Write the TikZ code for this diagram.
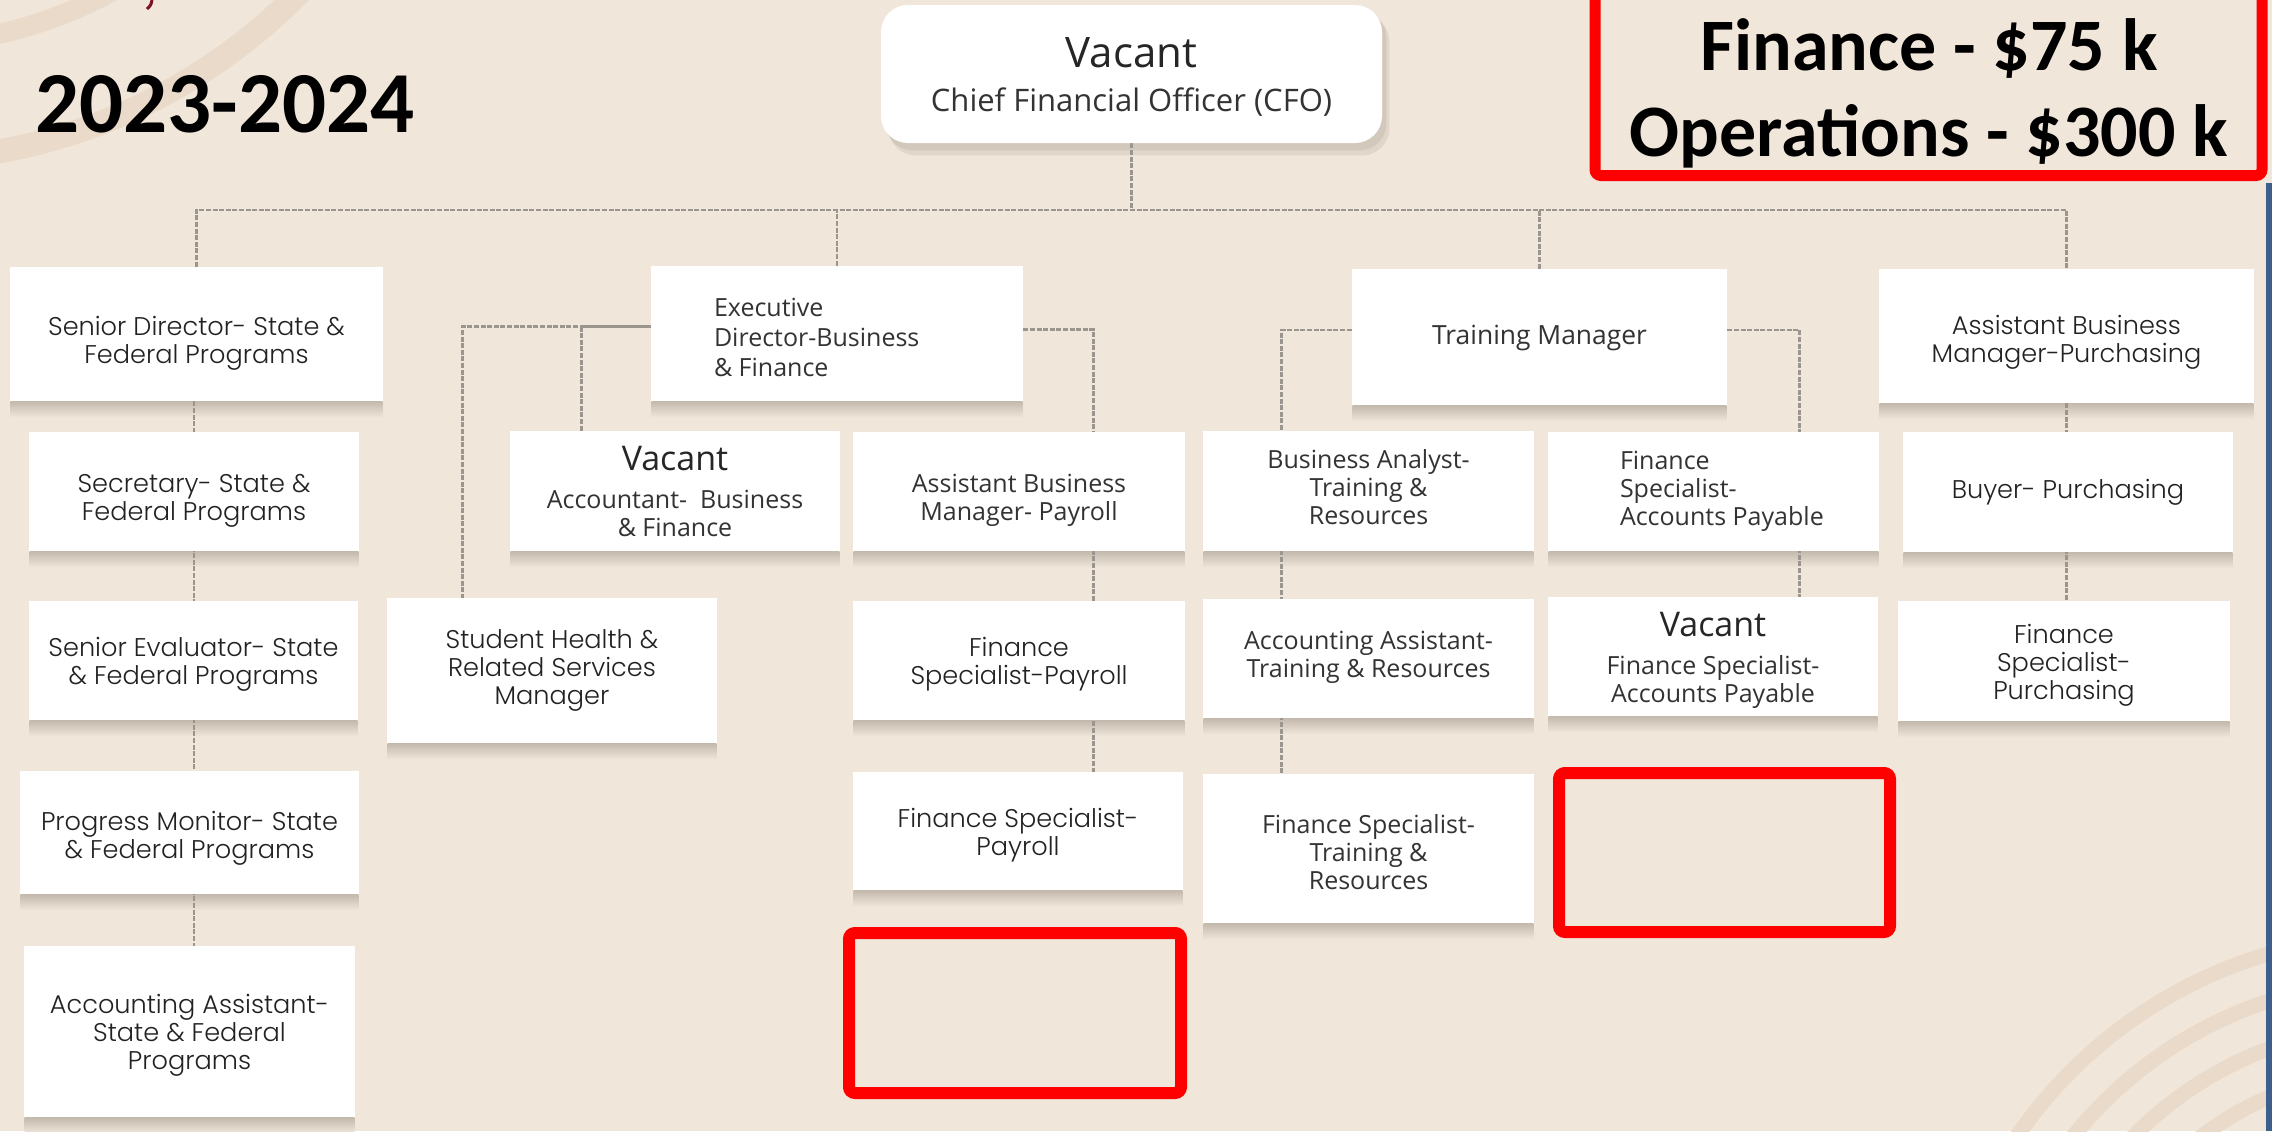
\documentclass[tikz,border=0pt]{standalone}
\usepackage{fontspec}
\IfFontExistsTF{Poppins Light}{\newfontfamily\geofam{Poppins Light}}{\newfontfamily\geofam{Poppins}}
\newfontfamily\humfam{Open Sans}
\newfontfamily\humreg{Open Sans}
\newfontfamily\calfam{Carlito}
\usetikzlibrary{calc}
\definecolor{bgc}{HTML}{F1E6DA}
\definecolor{arcc}{HTML}{EADACA}
\definecolor{shc}{HTML}{C4B9AD}
\definecolor{linec}{HTML}{9A958F}
\definecolor{txtc}{HTML}{333333}
\definecolor{geotxt}{HTML}{222222}
\definecolor{bluec}{HTML}{3D5F8C}
\definecolor{redc}{HTML}{FF0000}
\definecolor{darkred}{HTML}{7A1424}
\pgfdeclarelayer{shadowlayer}
\pgfdeclarelayer{linelayer}
\pgfsetlayers{shadowlayer,linelayer,main}
% box node (name) plus its text node (name t), text shifted by #7 px downward
\newcommand\orgbox[8][]{%
  \node[box, rect={#3}{#4}{#5}{#6}] (#2) {};
  \node[lbl, #1] (#2t) at ($(#2.center)+(0,#7)$) {#8};}
\newcommand\vacline[1]{{\humreg\fontsize{#1}{19}\selectfont\color{black!85} Vacant}}
\begin{document}
\begin{tikzpicture}[x=0.5pt,y=-0.5pt,
  rect/.style n args={4}{at={({(#1+#3)/2},{(#2+#4)/2})},
     minimum width={(#3-#1)*0.5pt}, minimum height={(#4-#2)*0.5pt}},
  box/.style={fill=white, inner sep=0pt},
  lbl/.style={inner sep=0pt, text=txtc, align=center},
  geo/.style={font=\geofam\fontsize{12.8}{14}\selectfont, text=geotxt},
  hum/.style={font=\humfam\fontsize{12.5}{14}\selectfont},
  conn/.style={draw=linec, line width=1.3pt, dash pattern=on 2.5pt off 0.8pt},
  redframe/.style={draw=redc, line width=6pt, rounded corners=3pt, inner sep=0pt},
  bigtxt/.style={font=\calfam\bfseries\fontsize{37}{44}\selectfont, text=black, inner sep=0pt, anchor=base}
]
\useasboundingbox (0,0) rectangle (2272,1131);

% ---------- boxes ----------
\node[box, rounded corners=13.5pt, rect={881}{5}{1382}{143}] (cfo) {};
\node[lbl, hum] (cfot) at ($(cfo.center)+(0,3)$)
  {\vacline{21}\\[8pt]{\fontsize{15.5}{17}\selectfont Chief Financial Officer (CFO)}};

\orgbox[geo]{sd}{10}{267}{383}{401}{9}{Senior Director- State \&\\Federal Programs}
\orgbox[geo]{sec}{29}{432}{359}{551}{9}{Secretary- State \&\\Federal Programs}
\orgbox[geo]{sev}{29}{601}{358}{720}{4}{Senior Evaluator- State\\\& Federal Programs}
\orgbox[geo]{pm}{20}{771}{359}{894}{6}{Progress Monitor- State\\\& Federal Programs}
\orgbox[geo]{aas}{24}{946}{355}{1117}{4}{Accounting Assistant-\\State \& Federal\\Programs}

\node[box, rect={651}{266}{1023}{401}] (exec) {};
\node[lbl, align=left, anchor=west, font=\humfam\fontsize{12.5}{15}\selectfont] (exect) at ($(exec.west)+(63,4)$) {Executive\\Director-Business\\\& Finance};
\orgbox[hum]{vac}{510}{431}{840}{551}{0}{\vacline{17}\\[5pt]Accountant-\ \ Business\\\& Finance}
\orgbox[hum]{abmpay}{853}{432}{1185}{551}{9}{Assistant Business\\Manager- Payroll}
\orgbox[geo]{she}{387}{598}{717}{743}{0}{Student Health \&\\Related Services\\Manager}
\orgbox[geo]{fsp1}{853}{601}{1185}{720}{4}{Finance\\Specialist-Payroll}
\orgbox[geo]{fsp2}{853}{772}{1183}{890}{4}{Finance Specialist-\\Payroll}

\orgbox[font=\humfam\fontsize{13.2}{15}\selectfont]{tm}{1352}{269}{1727}{405}{1}{Training Manager}
\orgbox[hum]{ba}{1203}{431}{1534}{551}{-4}{Business Analyst-\\Training \&\\Resources}
\node[box, rect={1548}{432}{1879}{551}] (fsap) {};
\node[lbl, hum, align=left, anchor=west] (fsapt) at ($(fsap.west)+(72,0)$) {Finance\\Specialist-\\Accounts Payable};
\orgbox[hum]{aat}{1203}{599}{1534}{718}{-1}{Accounting Assistant-\\Training \& Resources}
\orgbox[hum]{vfsap}{1548}{597}{1878}{716}{4}{\vacline{17}\\[5pt]Finance Specialist-\\Accounts Payable}
\orgbox[hum]{fst}{1203}{774}{1534}{923}{4}{Finance Specialist-\\Training \&\\Resources}

\orgbox[geo]{abmpu}{1879}{269}{2254}{403}{6}{Assistant Business\\Manager-Purchasing}
\orgbox[geo]{buy}{1903}{432}{2233}{552}{0}{Buyer- Purchasing}
\orgbox[geo]{fspu}{1898}{601}{2230}{721}{4}{Finance\\Specialist-\\Purchasing}

% red empty frames
\node[redframe, rect={849}{933}{1181}{1093}] (rb1) {};
\node[redframe, rect={1559}{773}{1890}{932}] (rb2) {};

% title and budget
\node[font=\calfam\bfseries\fontsize{43.5}{50}\selectfont, anchor=base west, inner sep=0pt] (yr) at (35,132) {2023-2024};
\node[bigtxt] (fin) at (1929,70) {Finance - \$75 k};
\node[bigtxt] (ops) at (1929,156) {Operations - \$300 k};
\draw[redc, line width=5.5pt, rounded corners=3pt] (1595,-30) rectangle (2262,175.5);
\fill[bluec] (2266,183) rectangle (2272,1131);

% ---------- background, arcs, shadows ----------
\begin{pgfonlayer}{shadowlayer}
  \fill[bgc] (0,0) rectangle (2272,1131);
  \begin{scope}
    \clip (0,0) rectangle (2272,1131);
    \draw[arcc, line width=12pt] (-100,-400) circle[radius=560];
    \draw[arcc, line width=10pt] (-100,-400) circle[radius=445];
    \foreach \r in {465,420,375,330}{
      \draw[arcc, line width=7.5pt] (2400,1400) circle[radius=\r];
    }
  \end{scope}
  \draw[darkred, line width=1.5pt] (152,0) .. controls (151,5) .. (147,9);
  \foreach \n in {sd,sec,sev,pm,aas,exec,vac,abmpay,she,fsp1,fsp2,tm,ba,fsap,aat,vfsap,fst,abmpu,buy,fspu}{
    \shade[top color=shc, bottom color=bgc] ($(\n.south west)+(1,0)$) rectangle ($(\n.south east)+(-1,16)$);
  }
  \fill[shc, opacity=0.35, rounded corners=13.5pt] ($(cfo.north west)+(8,10)$) rectangle ($(cfo.south east)+(7,12)$);
  \fill[shc, opacity=0.45, rounded corners=13.5pt] ($(cfo.north west)+(5,6)$) rectangle ($(cfo.south east)+(4,7)$);
\end{pgfonlayer}

% ---------- connectors ----------
\begin{pgfonlayer}{linelayer}
  \coordinate (bar) at (1132,210);
  \draw[conn] (cfo.south) -- (cfo.south |- bar);
  \draw[conn] (sd.north) |- (bar) -| (abmpu.north);
  \draw[conn] (exec.north) -- (exec.north |- bar);
  \draw[conn] (tm.north) -- (tm.north |- bar);
  % column 1
  \draw[conn] (sec.north |- sd.south) -- (sec.north |- aas.north);
  % executive director
  \coordinate (exL) at ($(exec.west)+(0,-7)$);
  \coordinate (exR) at ($(exec.east)+(0,-4)$);
  \draw[conn] (exL) -| ($(she.north west)+(76,0)$);
  \draw[conn] ($(vac.north west)+(72,0)$) |- (exL);
  \draw[conn] (exR) -| ($(fsp2.north west)+(241,0)$);
  % training manager
  \coordinate (tmL) at ($(tm.west)+(0,-7)$);
  \coordinate (tmR) at ($(tm.east)+(0,-7)$);
  \draw[conn] (tmL) -| ($(fst.north west)+(79,0)$);
  \draw[conn] (tmR) -| ($(vfsap.north west)+(252,0)$);
  % purchasing
  \draw[conn] (abmpu.south) -- (abmpu.south |- fspu.north);
\end{pgfonlayer}
\end{tikzpicture}
\end{document}
